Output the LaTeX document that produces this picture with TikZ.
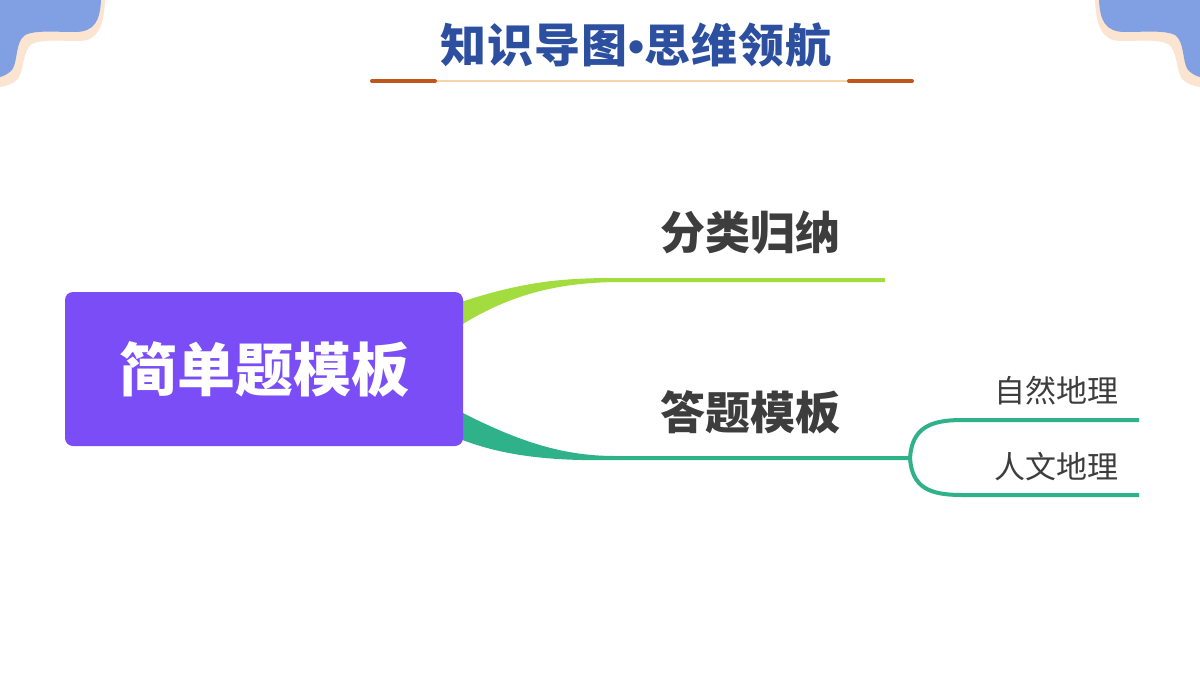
\documentclass[tikz,border=0pt]{standalone}
\usepackage{fontspec}
\setmainfont{Noto Sans CJK SC}
\newfontfamily\bulletfont{Liberation Sans}
\usetikzlibrary{calc}
\definecolor{waveblue}{HTML}{819FE3}
\definecolor{wavepeach}{HTML}{FBE4D0}
\definecolor{titleblue}{HTML}{2D4FA0}
\definecolor{lineorange}{HTML}{C0561A}
\definecolor{linepeach}{HTML}{F6D5A8}
\definecolor{rootpurple}{HTML}{7B4DF6}
\definecolor{limegreen}{HTML}{A3DC3E}
\definecolor{brteal}{HTML}{2FB18A}
\definecolor{txtgray}{HTML}{3D3D3D}
\tikzset{
  branchlabel/.style={text=txtgray, font=\fontsize{45}{48}\selectfont\bfseries, inner sep=0},
  leaflabel/.style={text=txtgray, font=\fontsize{31}{34}\selectfont, inner sep=0},
}
\begin{document}
\begin{tikzpicture}[x=1pt,y=-1pt]
\useasboundingbox[fill=white] (0,0) rectangle (1200,675);
% corner waves
\foreach \sx/\ox in {1/0,-1/1200}{
  \begin{scope}[xshift=\ox pt, xscale=\sx]
    \fill[wavepeach] (0,0) -- (105,0) .. controls (104,24) and (99,41) .. (79,41)
      .. controls (59,41) and (42,39) .. (32,44) .. controls (22,51) and (24,71) .. (18,79)
      .. controls (13,84) and (6,86) .. (0,87) -- cycle;
    \fill[waveblue] (0,0) -- (101,0) .. controls (100,20) and (95,32) .. (75,32)
      .. controls (55,32) and (35,30) .. (25,35) .. controls (15,42) and (18,62) .. (12,70)
      .. controls (8,74) and (4,76) .. (0,77) -- cycle;
  \end{scope}
}
% title
\node[text=titleblue, font=\fontsize{46}{50}\selectfont\bfseries, inner sep=0] (title) at (636,45)
  {知\kern1pt识\kern1pt导\kern1pt图\kern1pt{\bulletfont\bfseries •}思\kern1pt维\kern1pt领\kern1pt航};
\coordinate (ulL) at (372,81);
\coordinate (ulR) at (912,81);
\draw[linepeach, line width=2pt] (ulL) -- (ulR);
\draw[lineorange, line width=4pt, line cap=round] (ulL) -- ++(63,0);
\draw[lineorange, line width=4pt, line cap=round] (ulR) -- ++(-63,0);
% branches (drawn before root so root covers joins)
\coordinate (b1end) at (885,280);
\coordinate (b2end) at (910,458);
\fill[limegreen] (455,304) .. controls (520,282) and (560,278) .. (615,278) -- ($(b1end)+(0,-2)$)
  -- ($(b1end)+(0,2)$) -- (615,282) .. controls (560,283) and (510,293) .. (455,329) -- cycle;
\fill[brteal] (455,409) .. controls (515,440) and (560,456) .. (615,456) -- ($(b2end)+(0,-2)$)
  -- ($(b2end)+(0,2)$) -- (615,460) .. controls (560,461) and (505,458) .. (455,437) -- cycle;
% root
\node[fill=rootpurple, rounded corners=8pt, minimum width=398pt, minimum height=154pt, inner sep=0,
  text=white, font=\fontsize{58}{62}\selectfont\bfseries] (root) at (264,369) {简单题模板};
% branch labels
\node[branchlabel] (n1) at (750,233) {分类归纳};
\node[branchlabel] (n2) at (750,412) {答题模板};
% leaves
\coordinate (l1end) at (1139,420);
\coordinate (l2end) at (1139,495);
\draw[brteal, line width=4pt] (b2end) .. controls (912,428) and (930,420) .. (962,420) -- (l1end);
\draw[brteal, line width=4pt] (b2end) .. controls (912,488) and (930,495) .. (962,495) -- (l2end);
\node[leaflabel] (leaf1) at (1056,391) {自然地理};
\node[leaflabel] (leaf2) at (1056,467) {人文地理};
\end{tikzpicture}
\end{document}
